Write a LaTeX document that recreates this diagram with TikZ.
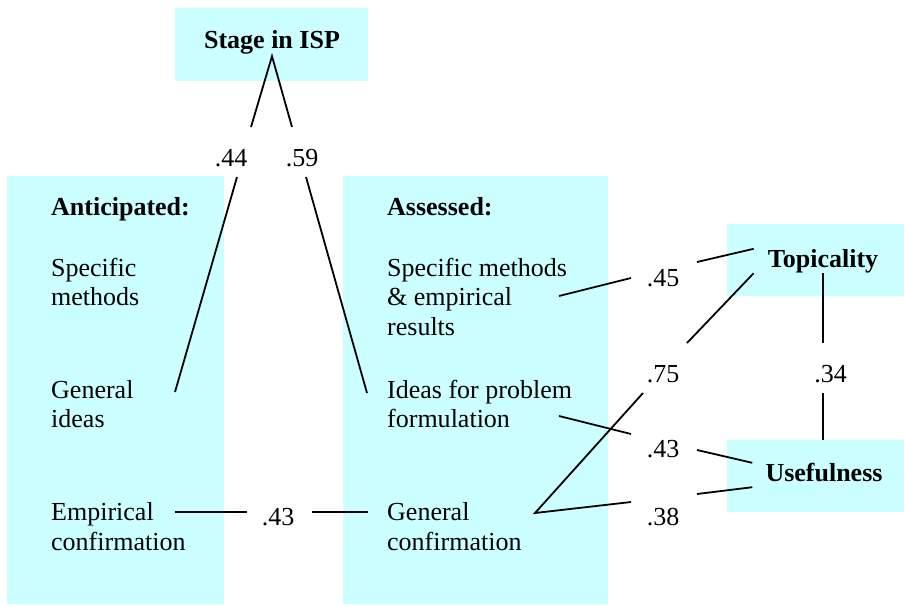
\documentclass[tikz,border=0pt]{standalone}
\usepackage{fontspec}
\setmainfont{Liberation Serif}
\definecolor{boxcyan}{RGB}{204,255,255}
\begin{document}
\begin{tikzpicture}[x=1pt,y=-1pt,
  box/.style={fill=boxcyan, draw=none, inner sep=0pt, anchor=north west},
  txt/.style={font=\fontsize{26}{29.5}\selectfont, align=left, anchor=base west, inner sep=0pt},
  head/.style={font=\fontsize{26}{29.5}\selectfont\bfseries, inner sep=0pt},
  lab/.style={font=\fontsize{26}{29.5}\selectfont, inner sep=0pt, anchor=base},
  conn/.style={line width=1.8pt}
]
\useasboundingbox (0,0) rectangle (904,605);

% boxes
\node[box, minimum width=193pt, minimum height=73pt] (stageBox) at (175,8) {};
\node[box, minimum width=217pt, minimum height=428pt] (antBox) at (7,176) {};
\node[box, minimum width=265pt, minimum height=428pt] (assBox) at (343,176) {};
\node[box, minimum width=177pt, minimum height=72pt] (topBox) at (727,224) {};
\node[box, minimum width=177pt, minimum height=72pt] (useBox) at (727,440) {};

% headings
\node[head, anchor=base, text depth=6pt, inner ysep=2pt] (stage) at (272,48) {Stage in ISP};
\node[head, anchor=base, text height=18pt, text depth=6pt, inner xsep=14pt] (topi) at (823,267) {Topicality};
\node[head, anchor=base, text height=18pt, text depth=6pt, inner xsep=13pt] (use) at (824,481) {Usefulness};
\node[head, anchor=base west] (antHead) at (51,215) {Anticipated:};
\node[head, anchor=base west] (assHead) at (387,215) {Assessed:};

% items (anchor at baseline of last line)
\node[txt] (antSpec) at (51,305.5) {Specific\\methods};
\node[txt] (antGen) at (51,427.5) {General\\ideas};
\node[txt] (antEmp) at (51,550) {Empirical\\confirmation};
\node[txt] (assSpec) at (387,335) {Specific methods\\\& empirical\\results};
\node[txt] (assIdeas) at (387,427.5) {Ideas for problem\\formulation};
\node[txt] (assGen) at (387,550) {General\\confirmation};

% labels
\node[lab] (l44) at (231,166) {.44};
\node[lab] (l59) at (302,166) {.59};
\node[lab] (l43a) at (278,525) {.43};
\node[lab] (l45) at (663,286) {.45};
\node[lab] (l75) at (663,382) {.75};
\node[lab] (l43b) at (663,457) {.43};
\node[lab] (l38) at (663,525) {.38};
\node[lab] (l34) at (830.5,382) {.34};

% connector ends
\coordinate (c44t) at (251,127);
\coordinate (c44b) at (237,177);
\coordinate (cAntGen) at (175,392);
\coordinate (c59t) at (292,127);
\coordinate (c59b) at (306,177);
\coordinate (cAssIdeas) at (367,393);
\coordinate (cAntEmp) at (175,512);
\coordinate (c43aL) at (247,512);
\coordinate (c43aR) at (312,512);
\coordinate (cAssGen) at (368,512);
\coordinate (cSpec) at (559,296);
\coordinate (c45L) at (631,278);
\coordinate (c45R) at (697,262);
\coordinate (cApex) at (535,513);
\coordinate (c75B) at (643,393);
\coordinate (c75T) at (687,343);
\coordinate (cIdeas) at (559,416);
\coordinate (c43bL) at (631,434);
\coordinate (c43bR) at (697,450);
\coordinate (c38L) at (631,502);
\coordinate (c38R) at (697,494);
\coordinate (c34T) at (823,343);
\coordinate (c34B) at (823,393);

% connectors
\draw[conn] (c44t) -- (stage.south) -- (c59t);
\draw[conn] (c44b) -- (cAntGen);
\draw[conn] (c59b) -- (cAssIdeas);
\draw[conn] (cAntEmp) -- (c43aL);
\draw[conn] (c43aR) -- (cAssGen);
\draw[conn] (cSpec) -- (c45L);
\draw[conn] (c45R) -- (topi.north west);
\draw[conn] (c75B) -- (cApex) -- (c38L);
\draw[conn] (c75T) -- (topi.south west);
\draw[conn] (cIdeas) -- (c43bL);
\draw[conn] (c43bR) -- (use.north west);
\draw[conn] (c38R) -- (use.south west);
\draw[conn] (topi.south) -- (c34T);
\draw[conn] (c34B) -- (c34B |- useBox.north);
\end{tikzpicture}
\end{document}
